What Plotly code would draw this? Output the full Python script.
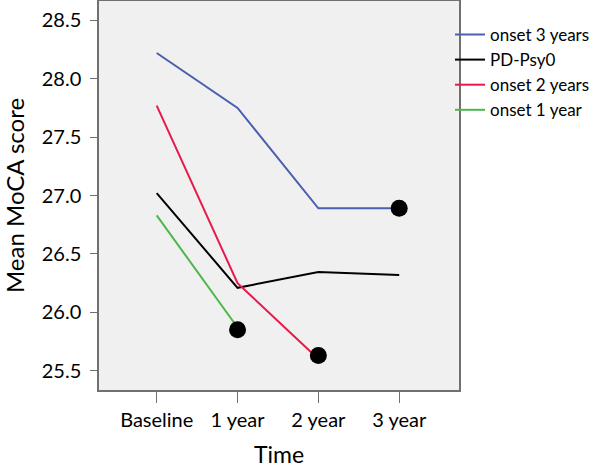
import plotly.graph_objects as go

times = ["Baseline", "1 year", "2 year", "3 year"]
onset3 = [28.22, 27.75, 26.89, 26.89]
pdpsy0 = [27.02, 26.21, 26.345, 26.32]
onset2 = [27.77, 26.25, 25.60, None]
onset1 = [26.83, 25.87, None, None]
end_x = ["1 year", "2 year", "3 year"]
end_y = [25.85, 25.63, 26.89]

series = [
    ("onset 3 years", onset3, "#4a5fae"),
    ("PD-Psy0", pdpsy0, "#000000"),
    ("onset 2 years", onset2, "#e8194b"),
    ("onset 1 year", onset1, "#4cb74a"),
]

fig = go.Figure()
for name, vals, col in series:
    fig.add_trace(go.Scatter(x=times, y=vals, mode="lines", name=name,
                             line=dict(color=col, width=2)))
fig.add_trace(go.Scatter(x=end_x, y=end_y, mode="markers", showlegend=False,
                         marker=dict(color="black", size=17)))

font = "Lato, Carlito, 'DejaVu Sans', sans-serif"
fig.update_layout(
    width=600, height=468,
    margin=dict(l=99, r=141, t=1, b=78, autoexpand=False),
    paper_bgcolor="white", plot_bgcolor="#f0f0f0",
    font=dict(family=font, color="black", size=18),
    legend=dict(x=0.975, xanchor="left", y=0.959, yanchor="top",
                font=dict(size=17), bgcolor="rgba(0,0,0,0)",
                tracegroupgap=0, itemwidth=30),
    xaxis=dict(type="category", range=[-0.714, 3.74], showgrid=False,
               ticks="outside", ticklen=11, tickcolor="#707070",
               showline=True, linecolor="#707070", linewidth=1.5, mirror=True,
               automargin=False,
               title=dict(text="Time", font=dict(size=23), standoff=24),
               tickfont=dict(size=20)),
    yaxis=dict(range=[25.335, 28.665], showgrid=False, zeroline=False,
               tickvals=[25.5, 26.0, 26.5, 27.0, 27.5, 28.0, 28.5],
               ticktext=["25.5", "26.0", "26.5", "27.0", "27.5", "28.0", "28.5"],
               ticks="outside", ticklen=7, tickcolor="#707070",
               showline=True, linecolor="#707070", linewidth=1.5, mirror=True,
               automargin=False, ticklabelstandoff=5,
               title=dict(text="Mean MoCA score", font=dict(size=24), standoff=28),
               tickfont=dict(size=20)),
)
fig.write_html("out.html", config={"displayModeBar": False},
               post_script="document.body.style.margin='0';")
